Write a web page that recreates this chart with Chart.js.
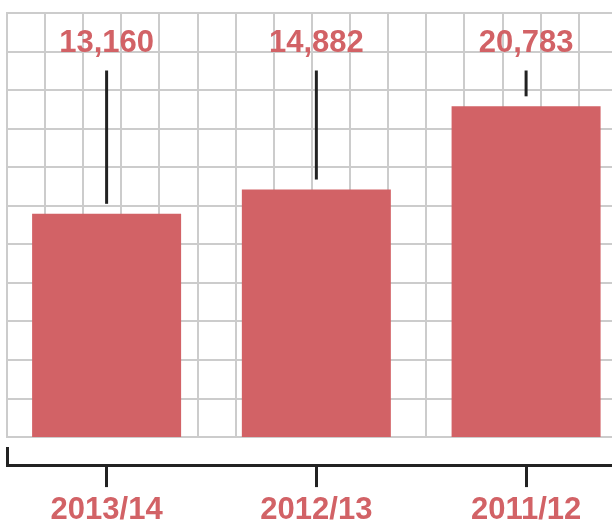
<!DOCTYPE html>
<html>
<head>
<meta charset="utf-8">
<script src="https://cdn.jsdelivr.net/npm/chart.js@4.4.1/dist/chart.umd.min.js"></script>
<style>
  html, body { margin: 0; padding: 0; background: #ffffff; }
  canvas { display: block; }
</style>
</head>
<body>
<canvas id="c" width="612" height="524"></canvas>
<script>
// ---- data ----
const CATEGORIES = ['2013/14', '2012/13', '2011/12'];
const VALUES = [13160, 14882, 20783];

// ---- axis ranges (the original value axis does not start at zero) ----
const Y_MIN = -2673;
const Y_MAX = 27400;
const X_MIN = -0.4749;
const X_MAX = 2.4096;
const GRID_ROWS = 11;
const GRID_COLS = 15.87;

// ---- styles ----
const RED = '#d26266';
const INK = '#222222';
const GRID = '#cccccc';
const FONT = "'Liberation Sans', Arial, Helvetica, sans-serif";

const valueLabels = {
  id: 'valueLabels',
  afterDatasetsDraw(chart) {
    const { ctx, chartArea } = chart;
    const meta = chart.getDatasetMeta(0);
    const data = chart.data.datasets[0].data;
    ctx.save();
    meta.data.forEach((bar, i) => {
      ctx.beginPath();
      ctx.strokeStyle = INK;
      ctx.lineWidth = 3;
      ctx.lineCap = 'butt';
      ctx.moveTo(bar.x, chartArea.top + 57.5);
      ctx.lineTo(bar.x, bar.y - 10);
      ctx.stroke();
      ctx.fillStyle = RED;
      ctx.font = 'bold 31px ' + FONT;
      ctx.textAlign = 'center';
      ctx.textBaseline = 'middle';
      ctx.fillText(data[i].y.toLocaleString('en-US'), bar.x, chartArea.top + 30);
    });
    ctx.restore();
  }
};

new Chart(document.getElementById('c'), {
  type: 'bar',
  data: {
    datasets: [{
      data: VALUES.map((v, i) => ({ x: i, y: v })),
      backgroundColor: RED,
      borderWidth: 0,
      base: Y_MIN,
      xAxisID: 'x',
      yAxisID: 'y',
      categoryPercentage: 1,
      barPercentage: 0.7104
    }]
  },
  options: {
    responsive: false,
    animation: false,
    devicePixelRatio: 1,
    layout: { padding: { top: 13, left: 7, right: 0, bottom: -9 } },
    plugins: { legend: { display: false }, tooltip: { enabled: false } },
    scales: {
      x: {
        type: 'linear', position: 'bottom', weight: 2,
        min: X_MIN, max: X_MAX, offset: false,
        afterBuildTicks: s => { s.ticks = CATEGORIES.map((_, i) => ({ value: i })); },
        ticks: {
          callback: v => CATEGORIES[v],
          color: RED,
          font: { family: FONT, size: 31, weight: 'bold', lineHeight: 0.9 },
          padding: 9, maxRotation: 0, autoSkip: false
        },
        grid: { offset: false, drawOnChartArea: false, drawTicks: true, tickLength: 22, color: INK, lineWidth: 3 },
        border: { display: true, color: INK, width: 3 }
      },
      xs: {
        type: 'linear', position: 'bottom', weight: 1,
        min: 0, max: 1, offset: false,
        afterBuildTicks: s => { s.ticks = [{ value: 0 }]; },
        ticks: { display: false },
        grid: { offset: false, drawOnChartArea: false, drawTicks: true, tickLength: 18, color: INK, lineWidth: 3 },
        border: { display: false }
      },
      xg: {
        type: 'linear', position: 'bottom', weight: 0,
        min: 0, max: GRID_COLS, offset: false,
        ticks: { display: false, stepSize: 1, includeBounds: false, maxTicksLimit: 100 },
        grid: { offset: false, color: GRID, lineWidth: 2, drawTicks: true, tickLength: 10, tickColor: 'rgba(0,0,0,0)' },
        border: { display: true, color: GRID, width: 2 }
      },
      y: {
        type: 'linear', display: false, min: Y_MIN, max: Y_MAX
      },
      yg: {
        type: 'linear', position: 'left', min: 0, max: GRID_ROWS,
        ticks: { display: false, stepSize: 1, maxTicksLimit: 100 },
        grid: { color: GRID, lineWidth: 2, drawTicks: false },
        border: { display: true, color: GRID, width: 2 }
      }
    }
  },
  plugins: [valueLabels]
});
</script>
</body>
</html>
